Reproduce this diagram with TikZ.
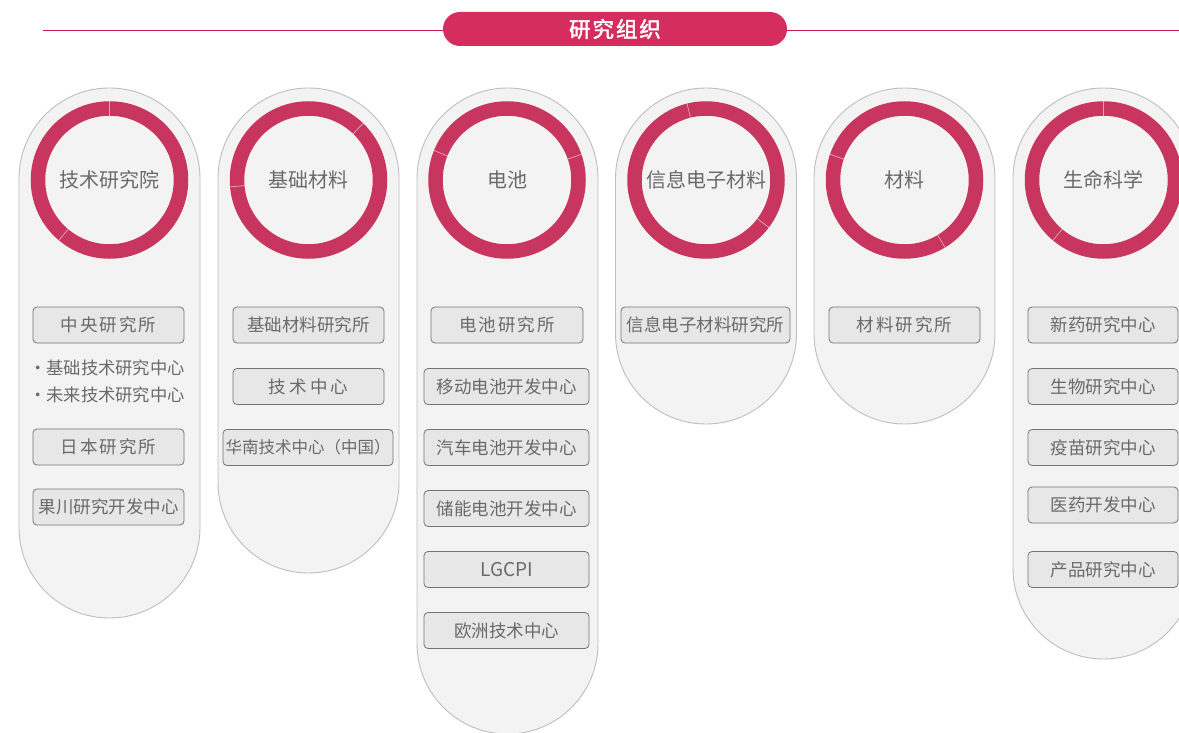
\documentclass[tikz,border=0pt]{standalone}
\usepackage{fontspec}
\setmainfont{Noto Sans CJK SC}
\newfontfamily\titlefont[FakeBold=2,LetterSpace=9]{Noto Sans CJK SC}
\newfontfamily\wide[LetterSpace=11]{Noto Sans CJK SC}
\newfontfamily\wider[LetterSpace=18]{Noto Sans CJK SC}
\usetikzlibrary{calc}
\definecolor{ringc}{HTML}{C8365F}
\definecolor{pillc}{HTML}{D42D5E}
\definecolor{linec}{HTML}{D3194B}
\definecolor{capfill}{HTML}{F2F3F2}
\definecolor{capdraw}{HTML}{BEBEBE}
\definecolor{boxfill}{HTML}{E7E7E8}
\definecolor{boxdraw}{HTML}{747474}
\definecolor{txt}{HTML}{6A6A6A}
\definecolor{dotc}{HTML}{A0A0A0}
\pgfdeclarelayer{bg}
\pgfsetlayers{bg,main}
\begin{document}
\begin{tikzpicture}[x=1pt,y=-1pt,
  capsule/.style={draw=capdraw,fill=capfill,line width=0.9pt,rounded corners=90.5pt,minimum width=181pt,inner sep=0pt},
  ring/.style={circle,draw=ringc,line width=14.5pt,minimum size=143pt,inner sep=0pt,text=txt,font=\fontsize{20}{24}\selectfont},
  sepline/.style={draw=white,opacity=0.55,line width=0.7pt},
  orgbox/.style={draw=boxdraw,fill=boxfill,line width=0.8pt,rounded corners=4pt,minimum height=36pt,inner sep=0pt,text=txt,font=\fontsize{17.5}{20}\selectfont},
  bullet/.style={anchor=west,inner sep=0pt,text=txt,font=\fontsize{17.3}{20}\selectfont},
  conn/.style={draw=dotc,line width=1.4pt,dash pattern=on 2pt off 3pt},
  pill/.style={fill=pillc,rounded corners=17pt,minimum width=344pt,minimum height=34pt,inner sep=0pt,text=white,font=\titlefont\fontsize{21.5}{24}\selectfont},
  hline/.style={draw=linec,line width=1.4pt}
]
\useasboundingbox (0,0) rectangle (1179,733);
\clip (0,0) rectangle (1179,733);
\fill[white] (0,0) rectangle (1179,733);

% header
\coordinate (hl) at (43,30.5);
\coordinate (hr) at (1179,30.5);
\draw[hline] (hl) -- (hr);
\node[pill] (title) at (615,29) {研究组织};

% capsules
\node[capsule,minimum height=530pt] (cap1) at (109.5,353) {};
\node[capsule,minimum height=485pt] (cap2) at (308.5,330.5) {};
\node[capsule,minimum height=646pt] (cap3) at (507.5,411) {};
\node[capsule,minimum height=336pt] (cap4) at (706,256) {};
\node[capsule,minimum height=336pt] (cap5) at (904.5,256) {};
\node[capsule,minimum height=571pt] (cap6) at (1103.5,373.5) {};

% rings
\node[ring] (r1) at (109.5,180) {技术研究院};
\node[ring] (r2) at (308.5,180) {基础材料};
\node[ring] (r3) at (507,180) {电池};
\node[ring] (r4) at (706,180) {信息电子材料};
\node[ring] (r5) at (904.5,180) {材料};
\node[ring] (r6) at (1103.5,180) {生命科学};

% ring separators
\foreach \r/\a/\b in {r1/90/230, r2/46/185, r3/158/19, r4/104/323, r5/161/301, r6/90/230}{
  \draw[sepline] ($(\r.center)+(-\a:64)$) -- ($(\r.center)+(-\a:79)$);
  \draw[sepline] ($(\r.center)+(-\b:64)$) -- ($(\r.center)+(-\b:79)$);
}

% connectors
\begin{pgfonlayer}{bg}
\foreach \p/\q in {r1/r2, r2/r3, r3/r4, r4/r5, r5/r6}{
  \draw[conn] (\p.center) -- (\q.center);
}
\end{pgfonlayer}

% column 1
\node[orgbox,minimum width=151pt] (b11) at (108.5,325) {\wide 中央研究所};
\node[bullet] (l11) at (29,368) {·\hspace{0pt}基础技术研究中心};
\node[bullet] (l12) at (29,395) {·\hspace{0pt}未来技术研究中心};
\node[orgbox,minimum width=151pt] (b12) at (108.5,447) {\wide 日本研究所};
\node[orgbox,minimum width=151pt] (b13) at (108.5,507) {果川研究开发中心};

% column 2
\node[orgbox,minimum width=151pt] (b21) at (308.5,325) {基础材料研究所};
\node[orgbox,minimum width=151pt] (b22) at (308.5,386.5) {\wider 技术中心};
\node[orgbox,minimum width=170pt] (b23) at (308,447.5) {\fontsize{16.5}{20}\selectfont 华南技术中心（中国）};

% column 3
\node[orgbox,minimum width=152pt] (b31) at (507,325) {\wide 电池研究所};
\node[orgbox,minimum width=165pt] (b32) at (506.5,386.5) {移动电池开发中心};
\node[orgbox,minimum width=165pt] (b33) at (506.5,447.5) {汽车电池开发中心};
\node[orgbox,minimum width=165pt] (b34) at (506.5,508.5) {储能电池开发中心};
\node[orgbox,minimum width=165pt] (b35) at (506.5,569.5) {\fontsize{19}{22}\selectfont LGCPI};
\node[orgbox,minimum width=165pt] (b36) at (506.5,630.5) {欧洲技术中心};

% column 4
\node[orgbox,minimum width=169pt] (b41) at (705.5,325) {信息电子材料研究所};

% column 5
\node[orgbox,minimum width=151pt] (b51) at (904.5,325) {\wide 材料研究所};

% column 6
\node[orgbox,minimum width=150pt] (b61) at (1103,325) {新药研究中心};
\node[orgbox,minimum width=150pt] (b62) at (1103,386.5) {生物研究中心};
\node[orgbox,minimum width=150pt] (b63) at (1103,447.5) {疫苗研究中心};
\node[orgbox,minimum width=150pt] (b64) at (1103,505) {医药开发中心};
\node[orgbox,minimum width=150pt] (b65) at (1103,569.5) {产品研究中心};
\end{tikzpicture}
\end{document}
